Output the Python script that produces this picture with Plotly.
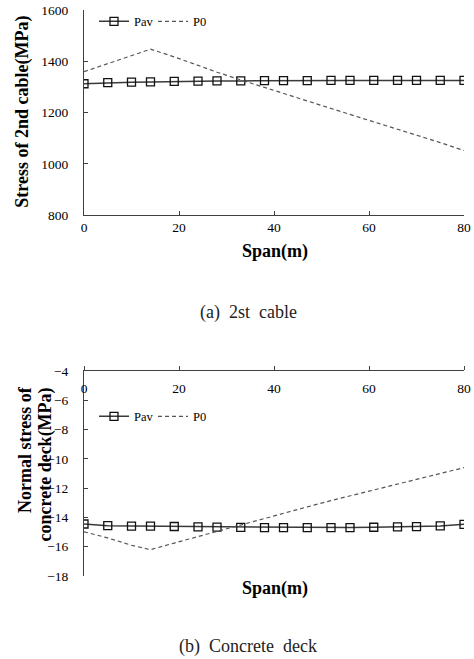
import plotly.graph_objects as go

# ---- data ----
span = [0, 5, 10, 14, 19, 24, 28, 33, 38, 42, 47, 52, 56, 61, 66, 70, 75, 80]

cable_pav = [1313, 1317, 1319, 1320, 1322, 1323, 1324, 1324, 1325, 1325,
             1325, 1326, 1326, 1326, 1326, 1326, 1326, 1326]
cable_p0 = [1360, 1392, 1425, 1448, 1418, 1384, 1358, 1328, 1298, 1275,
            1246, 1216, 1193, 1164, 1136, 1113, 1083, 1052]

deck_pav = [-14.45, -14.56, -14.59, -14.60, -14.62, -14.64, -14.66, -14.68, -14.69,
            -14.70, -14.70, -14.70, -14.69, -14.67, -14.65, -14.63, -14.58, -14.47]
deck_p0 = [-14.98, -15.40, -15.90, -16.20, -15.75, -15.30, -14.95, -14.50, -14.07,
           -13.72, -13.28, -12.85, -12.52, -12.12, -11.72, -11.40, -11.00, -10.60]

x_ticks = [0, 20, 40, 60, 80]
cable_ticks = [800, 1000, 1200, 1400, 1600]
deck_ticks = [-18, -16, -14, -12, -10, -8, -6, -4]

W, H = 474, 659
SERIF = "Liberation Serif, Times New Roman, serif"

def px_x(v):
    return v / W

def px_y(v):
    return 1 - v / H

fig = go.Figure()

pav_line = dict(color="#3a3a3a", width=1.5)
pav_marker = dict(symbol="square-open", size=8, color="#111111", line=dict(width=1.3))
p0_line = dict(color="#555555", width=1.2, dash="4px,3px")

fig.add_trace(go.Scatter(x=span, y=cable_pav, mode="lines+markers", name="Pav",
                         line=pav_line, marker=pav_marker, xaxis="x", yaxis="y",
                         legend="legend"))
fig.add_trace(go.Scatter(x=span, y=cable_p0, mode="lines", name="P0",
                         line=p0_line, xaxis="x", yaxis="y", legend="legend"))
fig.add_trace(go.Scatter(x=span, y=deck_pav, mode="lines+markers", name="Pav",
                         line=pav_line, marker=pav_marker, xaxis="x2", yaxis="y2",
                         legend="legend2"))
fig.add_trace(go.Scatter(x=span, y=deck_p0, mode="lines", name="P0",
                         line=p0_line, xaxis="x2", yaxis="y2", legend="legend2"))
# empty helper trace so the label-only axis for the deck chart is drawn
fig.add_trace(go.Scatter(x=[], y=[], xaxis="x3", yaxis="y2", showlegend=False,
                         hoverinfo="skip"))

tick_font = dict(family=SERIF, size=13.5, color="black")
axis_common = dict(showgrid=False, zeroline=False, showline=True, automargin=False,
                   linecolor="#404040", linewidth=1, tickcolor="#404040",
                   ticklen=4, tickwidth=1, tickfont=tick_font)

xdom = [px_x(84), px_x(464)]
legend_common = dict(xanchor="left", yanchor="middle", orientation="h",
                     itemwidth=30, bgcolor="rgba(0,0,0,0)",
                     font=dict(family=SERIF, size=12.5, color="black"),
                     entrywidth=14, tracegroupgap=0)
fig.update_layout(
    width=W, height=H, autosize=False,
    margin=dict(l=0, r=0, t=0, b=0, pad=0),
    paper_bgcolor="white", plot_bgcolor="white",
    showlegend=True,
    xaxis=dict(domain=xdom, range=[0, 80], tickvals=x_ticks, ticks="inside",
               anchor="y", ticklabelstandoff=0, **axis_common),
    yaxis=dict(domain=[px_y(215), px_y(10.3)], range=[800, 1600], tickvals=cable_ticks,
               ticks="inside", anchor="x", ticklabelstandoff=12, **axis_common),
    xaxis2=dict(domain=xdom, range=[0, 80], tickvals=x_ticks, ticks="outside",
                side="top", showticklabels=False, anchor="y2", **axis_common),
    xaxis3=dict(domain=xdom, range=[0, 80], tickvals=x_ticks, overlaying="x2",
                anchor="free", position=px_y(371), side="bottom", showline=False,
                ticks="", showgrid=False, zeroline=False, automargin=False,
                tickfont=tick_font, ticklabelstandoff=7),
    yaxis2=dict(domain=[px_y(576), px_y(371)], range=[-18, -4], tickvals=deck_ticks,
                ticks="inside", anchor="x2", ticklabelstandoff=12, **axis_common),
    legend=dict(x=px_x(94), y=px_y(21.7), **legend_common),
    legend2=dict(x=px_x(94), y=px_y(416.7), **legend_common),
)

title_font = dict(family=SERIF, size=18, color="black")
caption_font = dict(family=SERIF, size=18, color="#222222")
annotations = [
    dict(text="<b>Stress of 2nd cable(MPa)</b>", x=px_x(21.7), y=px_y(112),
         textangle=-90),
    dict(text="<b>Span(m)</b>", x=px_x(274.5), y=px_y(251.7)),
    dict(text="(a)  2st  cable", x=px_x(248), y=px_y(313), font=caption_font),
    dict(text="<b>Normal stress of</b>", x=px_x(25), y=px_y(450), textangle=-90),
    dict(text="<b>concrete deck(MPa)</b>", x=px_x(45), y=px_y(464.5), textangle=-90),
    dict(text="<b>Span(m)</b>", x=px_x(275), y=px_y(588)),
    dict(text="(b)  Concrete  deck", x=px_x(248), y=px_y(646.7), font=caption_font),
]
for a in annotations:
    a.setdefault("font", title_font)
    fig.add_annotation(xref="paper", yref="paper", showarrow=False,
                       xanchor="center", yanchor="middle", **a)

fig.write_html("out.html",
               config={"displayModeBar": False, "responsive": False},
               post_script="document.body.style.margin='0';"
                           "document.body.style.overflow='hidden';")
